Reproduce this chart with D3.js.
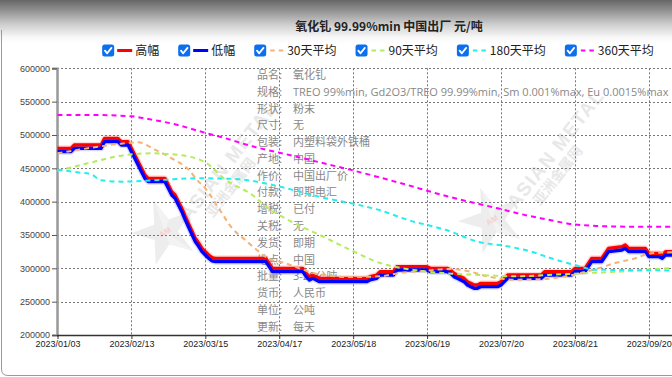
<!DOCTYPE html>
<html><head><meta charset="utf-8">
<script src="https://cdn.jsdelivr.net/npm/d3@7"></script>
<style>html,body{margin:0;padding:0;overflow:hidden;background:#fff;width:672px;height:377px}svg{display:block}</style>
</head><body><svg id="c" width="800" height="377"></svg>
<script>
// ---------- data ----------
const chartTitle = "氧化钆 99.99%min 中国出厂 元/吨";
const tickLabels = ["2023/01/03","2023/02/13","2023/03/15","2023/04/17","2023/05/18","2023/06/19","2023/07/20","2023/08/21","2023/09/20"];
const tickStep = 22; // trading days between date labels
const yTicks = [200000,250000,300000,350000,400000,450000,500000,550000,600000];
const seriesNames = ["高幅","低幅","30天平均","90天平均","180天平均","360天平均"];

// price series (trading-day index, value)
const priceIdx = [0,4,5,13,14,18,19,21,22,23,24,25,26,27,32,33,34,35,36,37,38,39,40,41,42,43,44,45,46,47,62,63,64,73,74,75,76,77,78,92,93,95,96,100,101,110,111,116,117,118,119,120,121,122,123,124,125,126,131,132,133,134,144,145,153,154,157,158,159,162,163,164,168,169,170,175,176,179,180,181,190];
const highVal = [480000,480000,485000,485000,495000,495000,490000,490000,480000,470000,460000,450000,440000,435000,435000,425000,415000,410000,400000,390000,378000,367000,356000,345000,338000,330000,325000,320000,316000,315000,315000,307500,300000,300000,292500,287500,290000,287500,285000,285000,287500,290000,295000,295000,302500,302500,300000,300000,297500,292500,290000,287500,285000,280000,277500,275000,275000,277500,277500,280000,285000,290000,290000,295000,295000,300000,300000,307500,315000,315000,322500,330000,332500,335000,330000,330000,322500,322500,320000,325000,325000];
const lowVal  = [475000,475000,480000,480000,490000,490000,485000,485000,475000,465000,455000,445000,435000,430000,430000,420000,410000,405000,395000,385000,373000,362000,351000,340000,333000,325000,320000,315000,311000,310000,310000,302500,295000,295000,287500,282500,285000,282500,280000,280000,282500,285000,290000,290000,297500,297500,295000,295000,292500,287500,285000,282500,280000,275000,272500,270000,270000,272500,272500,275000,280000,285000,285000,290000,290000,295000,295000,302500,310000,310000,317500,325000,327500,330000,325000,325000,317500,317500,315000,320000,320000];

const ma30Idx = [0,9,19,24,29,34,39,42,44,48,52,56,59,63,67,72,77,87,96,102,109,116,122,128,136,145,155,161,166,172,176,182,190];
const ma30Val = [472500,480000,487000,489000,478000,465000,448000,430000,420000,390000,360000,342000,329000,314000,309000,300000,292000,287000,288000,293000,296000,299000,296000,288000,283000,284000,292000,300000,308000,315000,322000,324000,325000];
const ma90Idx = [0,9,19,28,36,44,50,58,63,66,72,77,87,96,106,116,126,136,146,156,167,182,190];
const ma90Val = [446000,457500,469000,472500,470000,459000,433000,410000,389000,380000,364000,352500,328000,308000,297500,292500,290000,288000,290000,292500,295000,300000,301000];
const ma180Idx = [0,6,10,13,19,29,42,53,58,65,72,79,87,96,104,116,125,134,141,147,154,160,167,190];
const ma180Val = [448000,444000,441000,432000,430000,432000,435000,434000,431000,424000,415000,406000,398000,387000,373000,357000,340000,333000,325000,315000,305000,298000,297500,296500];
const ma360Idx = [0,10,22,28,35,42,50,58,69,78,87,102,116,131,140,146,152,161,170,190];
const ma360Val = [530000,530000,528000,523000,516000,506000,495000,483000,470000,459000,448000,428000,408000,390000,379000,373000,367000,363500,362500,362500];

// product info
const infoLabels = ["品名","规格","形状","尺寸","包装","产地","作价","付款","增税","关税","发货","地点","批量","货币","单位","更新"];
const infoValues = ["氧化钆","TREO 99%min, Gd2O3/TREO 99.99%min, Sm 0.001%max, Eu 0.0015%max","粉末","无","内塑料袋外铁桶","中国","中国出厂价","即期电汇","已付","无","即期","中国","3-20公吨","人民币","公吨","每天"];

// ---------- drawing ----------
const svg = d3.select("#c");
const CJK = "'Microsoft YaHei','Noto Sans CJK SC',sans-serif";
const colors = ["#ff0000","#0000ff","#f5b275","#b4ec5c","#22eeee","#ff00ff"];

const defs = svg.append("defs");
const grad = defs.append("linearGradient").attr("id","hdr").attr("x1",0).attr("y1",0).attr("x2",0).attr("y2",1);
[[0,"#666"],[0.25,"#939393"],[0.55,"#cdcdcd"],[0.85,"#f8f8f8"],[1,"#fff"]].forEach(s=>grad.append("stop").attr("offset",s[0]).attr("stop-color",s[1]));
defs.append("clipPath").attr("id","plot").append("rect").attr("x",57).attr("y",60).attr("width",740).attr("height",280);

svg.append("rect").attr("x",0).attr("y",0).attr("width",800).attr("height",44).attr("fill","url(#hdr)");
// panel border
svg.append("path").attr("d","M1.5,30 L1.5,369 Q1.5,375.5 8,375.5 L800,375.5").attr("fill","none").attr("stroke","#9a9a9a").attr("stroke-width",1);

const x = d3.scaleLinear().domain([0, tickStep*8]).range([57.5, 648.8]);
const y = d3.scaleLinear().domain([200000, 600000]).range([335, 68.3]);
const tickIdx = tickLabels.map((d,i)=>i*tickStep);

// watermarks
function watermark(cx, cy){
  const g = svg.append("g").attr("transform",`translate(${cx},${cy})`).attr("opacity",0.5);
  const pts = d3.range(10).map(i=>{const r = i%2?13:34; const a = -Math.PI/2 + i*Math.PI/5 - 0.35; return [r*Math.cos(a), r*Math.sin(a)];});
  g.append("polygon").attr("points",pts.map(p=>p.join(",")).join(" ")).attr("fill","#dcdcdc");
  g.append("polygon").attr("points",[[0,0]].concat(pts.slice(0,2)).concat([[0,0]],pts.slice(4,6)).map(p=>p.join(",")).join(" ")).attr("fill","#e8e8e8");
  g.append("text").attr("transform","rotate(-30)").attr("x",0).attr("y",3).attr("text-anchor","middle").attr("font-family","Arial").attr("font-weight","bold").attr("font-size",8).attr("fill","#f2a0a0").text("AM");
  g.append("text").attr("transform","translate(24,-10) rotate(-52)").attr("font-family","Arial").attr("font-weight","bold").attr("font-size",19).attr("letter-spacing",1.5).attr("fill","#d2d2d2").text("ASIAN METAL");
  g.append("text").attr("transform","translate(48,-14) rotate(-52)").attr("font-family",CJK).attr("font-weight","bold").attr("font-size",14).attr("fill","#d2d2d2").text("亚洲金属网");
}
watermark(165,232);
watermark(492,220);

// grid
const grid = svg.append("g").attr("stroke","#777").attr("stroke-width",1).attr("stroke-dasharray","2,2").attr("clip-path","url(#plot)");
grid.selectAll("line.h").data(yTicks.slice(1)).join("line").attr("x1",57).attr("x2",800).attr("y1",d=>Math.round(y(d))+0.5).attr("y2",d=>Math.round(y(d))+0.5);
grid.selectAll("line.v").data(tickIdx.slice(1)).join("line").attr("x1",d=>Math.round(x(d))+0.5).attr("x2",d=>Math.round(x(d))+0.5).attr("y1",y(600000)).attr("y2",335);

// info block
const info = svg.append("g").attr("font-size",11).attr("fill","#888");
infoLabels.forEach((l,i)=>{
  const yy = 79 + i*16.78;
  info.append("text").attr("x",257).attr("y",yy).attr("font-family",CJK).text(l+":");
  info.append("text").attr("x",293).attr("y",yy).attr("font-family","'Open Sans','Noto Sans CJK SC',sans-serif").text(infoValues[i]);
});

// axes
const yAxis = svg.append("g").attr("transform","translate(57,0)")
  .call(d3.axisLeft(y).tickValues(yTicks).tickFormat(d=>d).tickSize(5).tickPadding(2));
yAxis.select(".domain").attr("stroke","#999").attr("stroke-width",2.5);
yAxis.selectAll(".tick line").attr("stroke","#555");
yAxis.selectAll("text").attr("font-family","'Liberation Sans',Arial,sans-serif").attr("font-size",9).attr("fill","#444");

const xAxis = svg.append("g").attr("transform","translate(0,335)")
  .call(d3.axisBottom(x).tickValues(tickIdx).tickFormat((d,i)=>tickLabels[i]).tickSize(4).tickPadding(2).tickSizeOuter(0));
xAxis.select(".domain").attr("d","M57,0.5H800").attr("stroke","#333").attr("stroke-width",1.5);
xAxis.selectAll(".tick line").attr("stroke","#333");
xAxis.selectAll("text").attr("font-family","'Liberation Sans',Arial,sans-serif").attr("font-size",9).attr("fill","#222");

// series
const plot = svg.append("g").attr("clip-path","url(#plot)");
const lineLin = d3.line().x(d=>x(d[0])).y(d=>y(d[1]));
const lineSmooth = d3.line().curve(d3.curveMonotoneX).x(d=>x(d[0])).y(d=>y(d[1]));
const hi = d3.zip(priceIdx, highVal), lo = d3.zip(priceIdx, lowVal);
[[hi,colors[0]],[lo,colors[1]]].forEach(([data,c])=>{
  plot.append("path").attr("d",lineLin(data)).attr("fill","none").attr("stroke",c).attr("stroke-width",6).attr("stroke-opacity",0.15).attr("stroke-linejoin","round");
});
[[hi,colors[0]],[lo,colors[1]]].forEach(([data,c])=>{
  plot.append("path").attr("d",lineLin(data)).attr("fill","none").attr("stroke",c).attr("stroke-width",3.3).attr("stroke-linejoin","round");
});
[[ma30Idx,ma30Val,colors[2]],[ma90Idx,ma90Val,colors[3]],[ma180Idx,ma180Val,colors[4]],[ma360Idx,ma360Val,colors[5]]].forEach(([ix,v,c])=>{
  plot.append("path").attr("d",lineSmooth(d3.zip(ix,v))).attr("fill","none").attr("stroke",c).attr("stroke-width",2).attr("stroke-dasharray","5,4");
});

// title
svg.append("text").attr("x",389).attr("y",31).attr("text-anchor","middle").attr("font-family",CJK).attr("font-weight","bold").attr("font-size",12).attr("fill","#222").text(chartTitle);

// legend
const leg = svg.append("g");
const items = seriesNames.map((n,i)=>{
  const g = leg.append("g");
  g.append("rect").attr("x",0).attr("y",-6).attr("width",12).attr("height",12).attr("rx",2.5).attr("fill","#0b6ff0");
  g.append("path").attr("d","M2.8,0.2 L5,2.8 L9.3,-2.6").attr("fill","none").attr("stroke","#fff").attr("stroke-width",1.8).attr("stroke-linecap","round").attr("stroke-linejoin","round");
  const ln = g.append("line").attr("x1",i<2?15:16).attr("x2",i<2?30:29).attr("y1",0).attr("y2",0).attr("stroke",colors[i]).attr("stroke-width",i<2?3:2);
  if(i>=2) ln.attr("stroke-dasharray","4.5,4");
  const t = g.append("text").attr("x",33).attr("y",4.5).attr("font-family",CJK).attr("font-size",12).attr("fill","#222").text(n);
  return {g, w: 33 + t.node().getComputedTextLength()};
});
const gap = 19;
const total = d3.sum(items, d=>d.w) + gap*(items.length-1);
let cx0 = 378 - total/2;
items.forEach(it=>{ it.g.attr("transform",`translate(${cx0},50.5)`); cx0 += it.w + gap; });
</script></body></html>
